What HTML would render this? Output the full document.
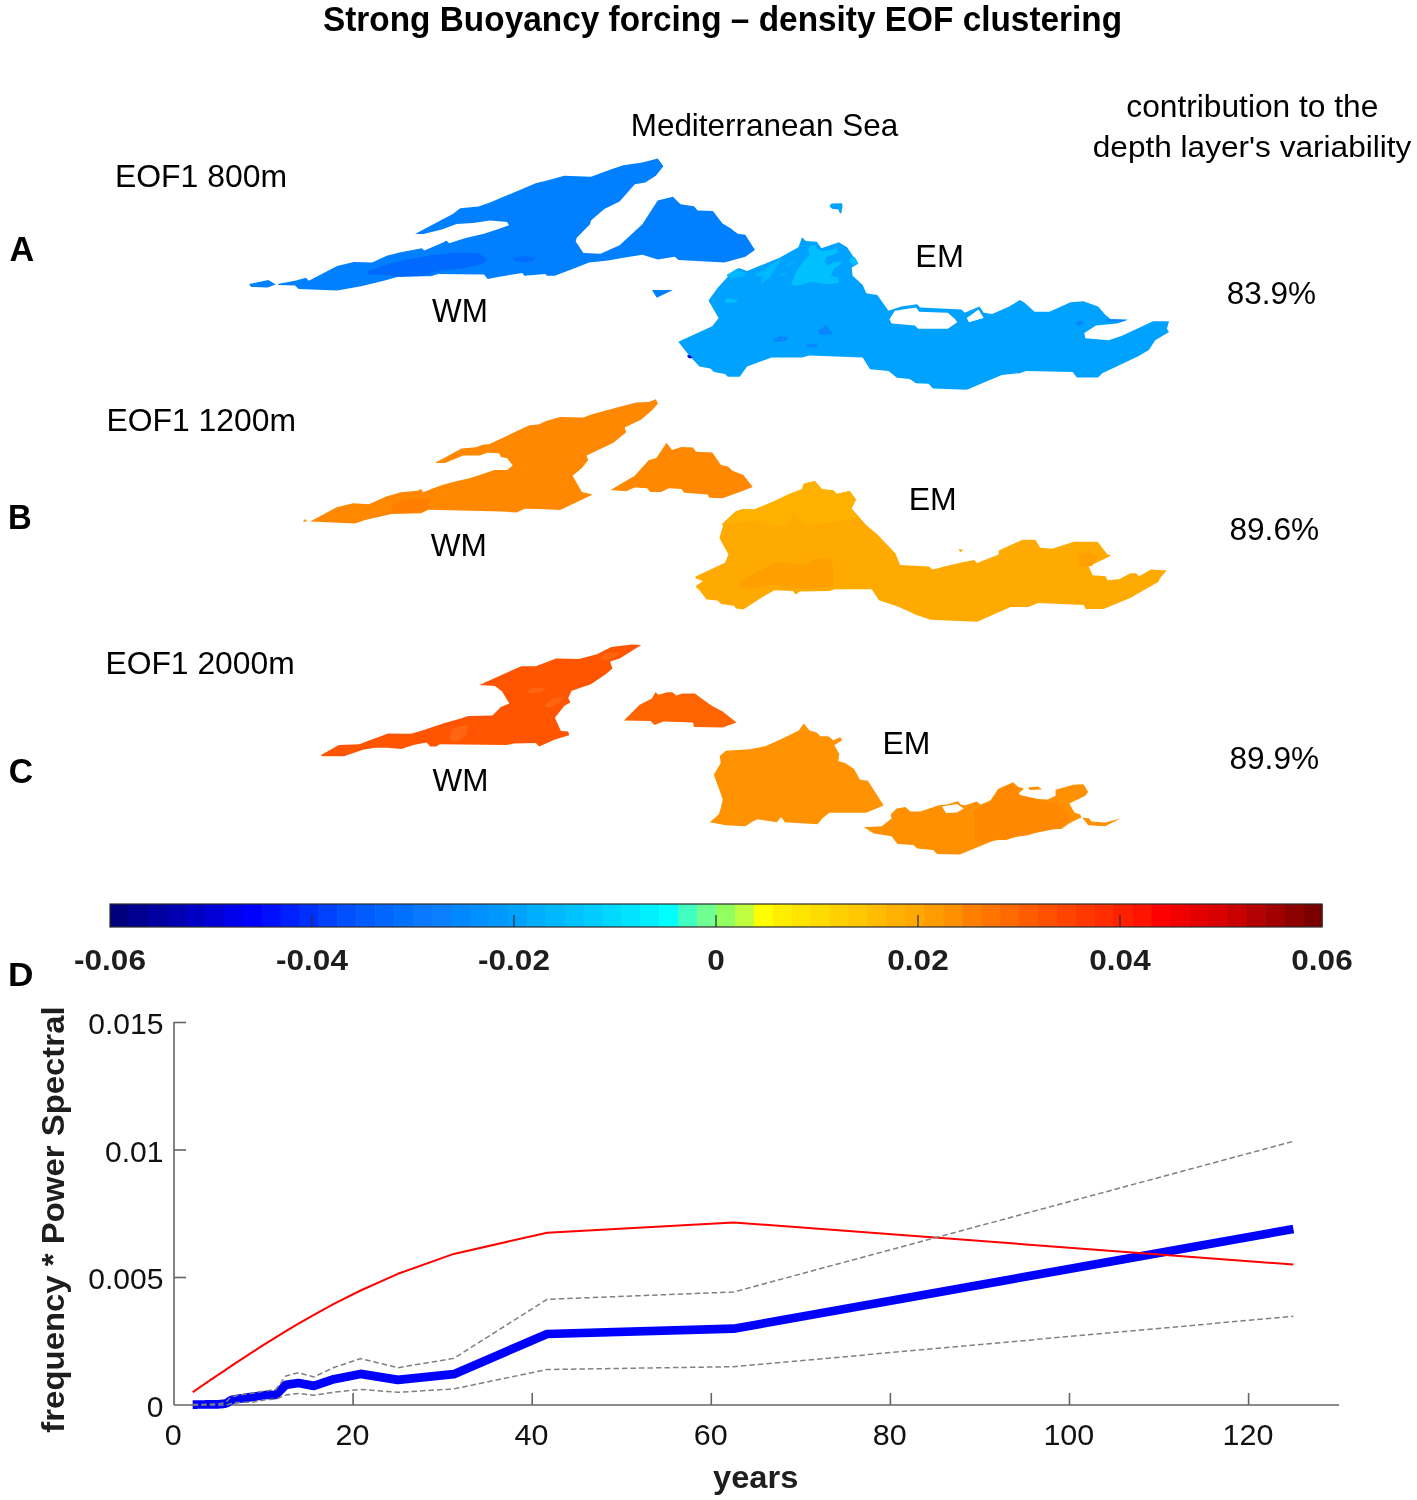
<!DOCTYPE html><html><head><meta charset="utf-8"><title>Strong Buoyancy forcing - density EOF clustering</title>
<style>html,body{margin:0;padding:0;background:#fff;width:1417px;height:1500px;overflow:hidden}svg{display:block}text{font-family:"Liberation Sans",sans-serif}svg{will-change:transform}</style></head><body>
<svg width="1417" height="1500" viewBox="0 0 1417 1500">
<rect width="1417" height="1500" fill="#fff"/>
<g shape-rendering="geometricPrecision">
<polygon fill="#0080ff" points="277.6,283.9 295.0,280.8 306.0,277.7 308.8,280.8 328.0,270.7 337.2,266.1 353.8,262.1 372.1,262.5 386.8,255.7 399.6,252.4 421.7,248.3 424.4,250.6 443.7,242.3 446.4,240.5 449.2,243.2 465.7,238.1 484.0,233.7 500.0,228.5 509.0,225.3 507.1,222.0 490.0,220.5 473.0,223.0 456.5,224.0 441.8,229.4 423.5,234.0 415.2,234.0 425.3,228.5 452.8,213.9 460.2,208.3 478.5,206.5 490.0,202.4 535.7,183.3 547.2,180.5 564.3,175.7 591.0,176.7 612.0,169.1 623.4,165.2 642.4,162.4 657.7,158.6 663.4,166.2 655.8,175.7 645.3,182.4 634.8,184.3 619.6,201.4 604.3,209.1 591.0,220.5 590.0,224.3 576.7,237.7 575.7,241.5 583.4,252.9 600.5,253.8 619.6,245.3 642.4,224.3 657.7,200.5 672.9,196.7 680.5,204.3 693.9,206.2 697.7,210.6 712.9,211.0 722.5,223.4 730.1,228.1 737.7,233.8 745.3,234.8 754.9,250.0 745.3,256.7 724.4,262.4 678.6,260.1 674.8,256.7 657.7,259.6 642.4,254.8 623.4,257.7 608.1,260.5 589.1,262.4 570.0,270.0 554.8,275.8 547.2,275.8 545.3,273.9 524.3,275.8 522.4,272.9 499.5,276.7 487.7,279.0 484.0,274.4 438.2,274.0 430.8,276.2 399.6,276.2 386.8,279.9 361.1,286.3 337.2,290.6 298.7,289.1 295.0,285.4 278.5,285.0"/>
<polygon fill="#0080ff" points="249.2,283.9 268.4,279.9 275.8,284.5 267.5,287.6 251.0,286.9"/>
<polygon fill="#0080ff" points="652.0,290.0 672.9,290.0 656.7,297.7"/>
<polygon fill="#006aff" points="368.0,271.0 385.0,265.0 405.0,260.0 430.0,255.5 456.0,252.5 478.0,253.0 488.0,259.5 482.0,264.0 462.0,268.5 440.0,271.0 423.0,276.0 400.0,277.0 385.0,275.0 368.0,274.5"/>
<polygon fill="#006eff" points="512.9,257.5 522.0,256.0 535.7,257.3 533.0,261.5 520.0,262.4 513.5,260.5"/>
<path fill="#00a2ff" fill-rule="evenodd" d="M678.3,341.8 712.2,326.2 718.6,317.9 708.5,300.5 717.7,287.7 727.8,276.7 726.9,274.8 737.0,269.3 738.8,268.0 747.1,271.1 780.1,257.4 798.4,247.3 802.1,237.2 805.8,240.9 816.8,241.8 821.4,248.2 838.8,242.3 847.1,247.3 858.1,263.8 851.7,267.5 852.6,275.7 862.7,284.9 866.3,293.2 877.3,295.0 888.5,310.7 901.2,306.5 917.0,304.3 920.2,307.5 961.5,309.6 964.7,312.8 979.5,306.5 983.7,312.8 992.2,313.9 1009.2,306.5 1019.7,300.1 1024.0,302.2 1034.6,311.8 1049.4,311.8 1070.6,302.2 1083.3,301.2 1098.1,306.5 1105.5,314.9 1110.8,319.2 1127.7,319.8 1117.1,323.4 1096.0,325.5 1084.3,332.9 1085.4,338.2 1108.7,340.3 1121.4,336.1 1153.1,321.3 1169.0,321.3 1166.9,328.7 1169.0,331.9 1155.2,340.3 1148.9,349.9 1138.3,356.2 1102.3,373.2 1098.1,377.4 1076.9,377.4 1072.7,372.1 1026.1,371.0 1019.7,373.2 1001.7,374.9 966.8,389.7 932.9,388.4 928.7,383.7 916.0,383.3 909.6,379.1 896.9,377.8 888.5,371.0 870.0,369.3 862.7,357.4 809.4,355.6 802.1,357.4 771.8,357.4 747.1,366.6 739.7,376.7 727.8,376.7 725.0,373.9 714.0,372.1 710.4,368.4 699.4,366.6 688.3,354.6Z M889.5,319.2 894.8,310.7 916.0,307.5 919.2,311.8 947.8,312.8 955.2,319.2 957.3,322.3 947.8,328.7 918.1,328.7 914.9,325.5 891.6,323.4Z M966.8,318.1 978.5,309.6 983.7,318.1 968.9,322.3Z"/>
<polygon fill="#00a2ff" points="829.4,205.9 831.5,203.5 842.2,203.2 842.5,207.0 841.2,213.5 839.7,213.0 838.5,209.5 832.0,208.7"/>
<polygon fill="#00c0ff" points="791.3,283.0 794.1,277.3 796.2,271.7 803.3,261.8 809.6,254.8 808.2,248.4 811.0,245.6 816.0,244.9 817.4,249.1 822.3,251.2 832.2,249.8 836.5,247.0 837.9,252.6 825.9,257.6 824.5,261.8 828.0,266.0 833.6,262.5 842.1,261.1 841.4,263.2 833.6,268.9 830.8,275.9 837.9,277.3 838.6,283.0 829.4,284.4 810.3,281.9 797.6,285.8 792.0,285.1"/>
<polygon fill="#00c0ff" points="849.9,258.3 854.8,256.9 858.3,263.2 852.7,265.3 849.9,261.8"/>
<polygon fill="#0000c8" points="687.0,355.5 689.5,355.0 692.6,357.8 690.0,358.6 688.0,357.5"/>
<polygon fill="#00c0ff" points="724.3,301.0 727.0,298.5 730.0,298.5 737.7,300.5 735.0,302.7 726.0,302.7"/>
<polygon fill="#00b8ff" points="726.8,275.4 737.0,268.6 739.8,271.5 746.5,272.6 743.7,276.5 731.3,278.2"/>
<polygon fill="#00b8ff" points="754.4,273.7 762.3,271.5 769.7,265.2 782.1,257.3 776.5,266.9 771.9,273.7 770.8,277.1 760.7,283.9 762.9,276.5 756.1,276.0"/>
<polygon fill="#00b8ff" points="779.3,274.8 786.6,272.6 784.9,274.3 779.9,276.0"/>
<polygon fill="#00b8ff" points="786.1,264.7 795.7,261.3 793.4,263.0 786.6,265.5"/>
<polygon fill="#0a86ff" points="1106.0,319.0 1127.7,319.8 1122.0,321.8 1108.0,321.5"/>
<polygon fill="#0a86ff" points="1076.0,323.0 1080.0,320.5 1084.0,321.5 1082.0,325.0 1077.0,325.5"/>
<polygon fill="#0a86ff" points="773.0,339.0 780.0,336.0 788.0,337.0 786.0,341.0 776.0,342.0"/>
<polygon fill="#0a86ff" points="818.0,331.0 826.0,325.0 830.0,330.0 833.0,334.0 820.0,335.0"/>
<polygon fill="#0a86ff" points="805.0,345.0 818.0,343.0 817.0,347.0 806.0,347.0"/>
<polygon fill="#ff8800" points="310.1,521.6 336.7,507.3 353.2,503.3 368.8,504.2 386.2,496.5 400.9,492.2 417.4,490.8 421.1,488.9 422.9,492.2 441.3,485.3 456.0,481.2 470.6,477.9 494.5,469.9 507.3,469.9 512.8,465.6 507.3,458.3 500.9,457.0 499.1,453.3 487.2,452.8 479.8,455.6 463.3,455.6 445.0,462.9 434.9,462.9 461.5,448.6 476.1,447.3 483.5,444.5 489.0,444.2 529.4,425.3 538.5,424.4 546.2,421.1 560.2,417.0 583.5,417.5 591.2,414.4 606.8,410.2 620.7,406.6 636.3,402.5 648.7,402.0 655.7,399.3 658.0,403.5 651.8,410.5 640.9,419.8 624.6,427.6 626.2,432.3 613.0,443.1 586.6,455.5 588.1,460.2 581.9,468.0 572.6,475.7 581.9,492.0 592.8,494.4 560.2,509.9 540.0,509.1 524.8,508.8 516.5,512.4 501.8,511.5 428.4,509.7 421.1,513.3 391.7,513.9 366.1,519.8 355.0,523.4 311.0,521.6"/>
<polygon fill="#ff8800" points="302.8,521.6 305.0,518.9 307.3,521.6"/>
<polygon fill="#ff7e00" points="392.0,505.0 405.0,500.0 420.0,498.0 430.0,499.0 428.0,509.0 421.0,512.0 392.0,513.0"/>
<polygon fill="#ff8800" points="610.6,490.0 634.7,475.7 648.7,460.2 656.4,457.9 666.5,442.8 672.0,450.1 681.3,447.0 692.9,447.5 696.0,451.7 712.3,452.4 720.9,464.9 727.9,466.4 732.5,470.8 743.4,475.0 752.7,486.9 741.8,491.3 722.4,498.2 709.2,497.8 707.7,494.4 684.4,492.8 681.3,488.9 668.9,488.2 661.1,492.0 650.2,492.0 647.1,488.2 634.7,487.4 626.2,491.3"/>
<polygon fill="#ffaa00" points="695.5,576.4 724.9,562.7 728.5,554.4 719.4,537.9 723.0,526.0 722.1,524.1 735.9,511.3 743.2,508.9 754.2,509.4 772.6,502.1 789.1,493.9 801.9,489.3 803.8,483.8 814.8,481.0 822.1,489.3 833.1,490.2 836.8,493.9 849.6,491.1 856.0,499.4 851.5,508.5 866.1,525.0 877.2,534.2 895.5,553.5 900.1,565.0 928.7,566.4 932.6,569.4 947.4,565.8 959.3,563.1 974.1,559.9 977.1,563.1 998.8,554.6 998.8,550.6 1022.5,539.8 1035.3,539.8 1040.3,547.7 1052.1,548.7 1073.9,541.7 1097.6,541.7 1107.5,554.6 1111.4,555.6 1088.7,566.4 1092.7,575.3 1105.5,576.3 1107.5,580.3 1119.3,579.3 1130.2,573.3 1136.1,573.3 1139.1,576.3 1150.9,569.4 1166.7,570.4 1160.8,577.3 1157.9,582.2 1149.0,587.2 1130.2,598.0 1103.5,608.9 1085.7,608.9 1083.8,605.0 1038.3,603.0 1028.4,606.9 1010.6,606.9 977.1,621.8 930.6,619.8 915.8,614.8 907.9,610.9 898.3,606.7 879.0,600.3 871.7,589.3 835.0,589.3 829.4,591.1 800.1,591.5 795.5,594.4 792.8,591.1 774.4,590.2 763.4,596.6 743.2,609.4 735.9,608.5 734.0,605.8 721.2,604.0 717.5,600.6 706.5,599.4 700.1,591.1 695.5,586.5 702.8,581.0 695.5,578.3"/>
<polygon fill="#ffaa00" points="958.3,549.6 963.2,549.6 960.6,552.6"/>
<polygon fill="#ffb100" points="722.1,524.1 735.9,511.3 743.2,508.9 754.2,509.4 772.6,502.1 789.1,493.9 801.9,489.3 803.8,483.8 814.8,481.0 822.1,489.3 833.1,490.2 836.8,493.9 849.6,491.1 856.0,499.4 851.5,508.5 858.0,516.0 845.6,520.5 832.5,521.8 806.4,525.7 793.3,512.6 790.7,523.1 780.3,527.0 754.2,520.5 722.8,524.4"/>
<polygon fill="#ffa000" points="738.5,581.8 758.1,571.4 777.7,562.3 806.4,564.9 812.9,559.6 829.9,558.3 833.8,568.8 832.5,587.1 806.4,588.4 793.3,588.4 773.8,584.5 754.2,588.4 741.1,588.4"/>
<polygon fill="#ffa000" points="1078.0,555.0 1090.0,552.0 1098.0,556.0 1092.0,566.0 1080.0,567.0"/>
<polygon fill="#ff5500" points="321.0,755.0 339.0,744.9 359.4,744.2 369.0,740.6 388.2,733.4 411.0,733.8 423.0,730.2 444.6,723.1 459.0,719.0 468.5,716.1 492.5,715.4 500.9,707.0 509.3,703.4 502.1,691.4 495.0,685.9 479.3,684.9 521.3,666.2 535.7,666.2 556.1,658.5 578.9,659.0 596.9,654.2 611.3,647.0 631.7,644.6 641.3,645.1 619.7,658.5 610.1,661.4 612.5,668.6 605.3,674.6 590.9,684.2 571.7,690.7 568.1,697.9 570.5,702.2 564.5,705.8 554.9,717.8 560.9,731.0 568.1,731.4 569.3,735.3 554.9,739.4 539.3,746.6 535.7,743.0 514.1,743.4 506.9,744.9 439.8,744.2 436.2,746.6 430.2,746.6 426.6,742.5 413.4,744.9 401.4,749.0 387.0,747.8 375.0,747.8 363.0,749.7 343.8,756.2 322.2,756.2"/>
<polygon fill="#ff6410" points="526.0,692.0 532.0,688.0 546.7,687.4 541.0,692.5 530.0,693.3"/>
<polygon fill="#ff6410" points="543.7,706.0 552.0,699.0 564.5,696.3 560.0,703.0 548.0,708.2"/>
<polygon fill="#ff6410" points="448.9,740.0 452.0,728.0 468.2,724.5 466.0,736.0 455.0,742.2"/>
<polygon fill="#ff6410" points="600.0,658.0 606.0,653.0 620.8,651.9 614.0,658.0 603.0,660.7"/>
<polygon fill="#ff6400" points="623.9,720.5 639.7,704.7 651.6,698.8 655.5,692.3 658.5,694.8 667.4,692.3 672.3,692.3 676.3,695.4 682.2,693.4 695.0,693.4 701.9,698.8 711.8,705.7 722.7,711.6 736.5,722.5 722.7,727.4 694.0,727.0 693.0,722.5 663.4,721.5 654.5,725.0 650.6,721.1"/>
<polygon fill="#ff9200" points="709.8,822.3 718.7,814.4 720.7,808.4 722.7,799.5 720.7,793.6 713.8,774.8 720.7,763.0 719.7,756.1 725.7,750.7 749.4,749.2 765.2,746.2 781.0,739.3 798.8,730.4 803.7,723.5 809.6,730.4 816.5,732.4 820.5,736.3 828.4,736.3 833.3,740.3 840.3,737.3 842.2,740.3 834.3,745.2 839.3,754.1 838.3,761.0 845.2,763.0 854.1,768.9 860.0,779.8 867.9,780.8 883.7,805.5 866.0,812.8 829.4,812.8 822.5,818.3 817.5,824.2 784.9,822.3 781.0,817.0 777.0,822.3 757.3,819.3 751.3,822.3 745.4,826.2 725.7,825.2"/>
<path fill="#ff9000" fill-rule="evenodd" d="M864.0,827.3 881.7,826.3 891.6,818.4 890.6,814.5 896.6,808.5 905.4,807.1 910.4,811.5 920.3,811.5 939.0,805.2 946.9,804.6 957.8,801.2 960.8,804.6 964.7,805.6 976.6,801.6 980.5,804.6 990.4,800.6 998.3,788.8 1013.1,782.3 1018.1,786.8 1024.0,788.8 1018.1,793.7 1020.0,798.6 1047.7,799.6 1055.6,795.7 1055.6,789.8 1073.4,784.8 1083.3,784.2 1088.2,791.7 1085.3,795.7 1069.4,803.6 1074.4,812.5 1080.3,814.5 1081.3,817.4 1069.4,823.3 1061.5,828.9 1045.7,829.3 1028.0,835.2 1016.1,836.8 1006.2,840.1 995.3,840.1 959.8,854.6 937.1,854.0 933.1,850.0 917.3,848.6 913.3,845.1 897.5,844.1 891.6,836.2 873.8,833.6Z M942.0,806.5 957.0,804.0 963.7,808.5 957.0,812.5 946.0,813.0Z"/>
<polygon fill="#ff8800" points="975.0,810.0 990.0,803.0 1000.0,790.0 1013.0,784.0 1020.0,795.0 1047.0,801.0 1062.0,806.0 1070.0,818.0 1060.0,828.0 1030.0,834.0 1000.0,840.0 975.0,842.0"/>
<polygon fill="#ff9000" points="1028.0,787.5 1038.0,786.5 1042.0,789.5 1030.0,790.0"/>
<polygon fill="#ff9000" points="1082.3,817.4 1089.2,818.4 1091.2,821.4 1105.0,822.4 1120.8,818.4 1105.0,826.3 1088.2,825.3"/>
</g>
<text transform="translate(323.00,31.25) scale(0.3338,0.3500)" font-size="100" font-weight="bold" fill="#000">Strong Buoyancy forcing – density EOF clustering</text>
<text transform="translate(630.68,136.29) scale(0.3146,0.3054)" font-size="100" fill="#000">Mediterranean Sea</text>
<text transform="translate(1126.33,116.79) scale(0.3170,0.3122)" font-size="100" fill="#000">contribution to the</text>
<text transform="translate(1092.74,157.26) scale(0.3160,0.3021)" font-size="100" fill="#000">depth layer's variability</text>
<text transform="translate(114.95,186.69) scale(0.3193,0.3070)" font-size="100" fill="#000">EOF1 800m</text>
<text transform="translate(106.45,430.99) scale(0.3188,0.3070)" font-size="100" fill="#000">EOF1 1200m</text>
<text transform="translate(105.45,674.19) scale(0.3183,0.3127)" font-size="100" fill="#000">EOF1 2000m</text>
<text transform="translate(9.57,261.44) scale(0.3424,0.3441)" font-size="100" font-weight="bold" fill="#000">A</text>
<text transform="translate(7.90,529.00) scale(0.3279,0.3464)" font-size="100" font-weight="bold" fill="#000">B</text>
<text transform="translate(8.75,782.86) scale(0.3369,0.3423)" font-size="100" font-weight="bold" fill="#000">C</text>
<text transform="translate(7.93,985.90) scale(0.3525,0.3377)" font-size="100" font-weight="bold" fill="#000">D</text>
<text transform="translate(432.09,322.30) scale(0.3142,0.3290)" font-size="100" fill="#000">WM</text>
<text transform="translate(430.68,555.90) scale(0.3160,0.3203)" font-size="100" fill="#000">WM</text>
<text transform="translate(432.59,790.90) scale(0.3148,0.3174)" font-size="100" fill="#000">WM</text>
<text transform="translate(915.31,267.30) scale(0.3239,0.3217)" font-size="100" fill="#000">EM</text>
<text transform="translate(908.64,509.70) scale(0.3201,0.3159)" font-size="100" fill="#000">EM</text>
<text transform="translate(882.54,754.40) scale(0.3194,0.3188)" font-size="100" fill="#000">EM</text>
<text transform="translate(1226.74,303.98) scale(0.3152,0.3225)" font-size="100" fill="#000">83.9%</text>
<text transform="translate(1229.43,540.28) scale(0.3163,0.3225)" font-size="100" fill="#000">89.6%</text>
<text transform="translate(1229.43,768.98) scale(0.3163,0.3225)" font-size="100" fill="#000">89.9%</text>
<rect x="110.00" y="904" width="19.54" height="23" fill="#00007f"/>
<rect x="128.94" y="904" width="19.54" height="23" fill="#000090"/>
<rect x="147.88" y="904" width="19.54" height="23" fill="#00009f"/>
<rect x="166.81" y="904" width="19.54" height="23" fill="#0000b0"/>
<rect x="185.75" y="904" width="19.54" height="23" fill="#0000c4"/>
<rect x="204.69" y="904" width="19.54" height="23" fill="#0000d6"/>
<rect x="223.62" y="904" width="19.54" height="23" fill="#0000ea"/>
<rect x="242.56" y="904" width="19.54" height="23" fill="#0000ff"/>
<rect x="261.50" y="904" width="19.54" height="23" fill="#0010ff"/>
<rect x="280.44" y="904" width="19.54" height="23" fill="#0020ff"/>
<rect x="299.38" y="904" width="19.54" height="23" fill="#0030ff"/>
<rect x="318.31" y="904" width="19.54" height="23" fill="#0040ff"/>
<rect x="337.25" y="904" width="19.54" height="23" fill="#0050ff"/>
<rect x="356.19" y="904" width="19.54" height="23" fill="#005cff"/>
<rect x="375.12" y="904" width="19.54" height="23" fill="#0066ff"/>
<rect x="394.06" y="904" width="19.54" height="23" fill="#0070ff"/>
<rect x="413.00" y="904" width="19.54" height="23" fill="#0a78ff"/>
<rect x="431.94" y="904" width="19.54" height="23" fill="#0a80ff"/>
<rect x="450.88" y="904" width="19.54" height="23" fill="#0088ff"/>
<rect x="469.81" y="904" width="19.54" height="23" fill="#0090ff"/>
<rect x="488.75" y="904" width="19.54" height="23" fill="#0098ff"/>
<rect x="507.69" y="904" width="19.54" height="23" fill="#00a2ff"/>
<rect x="526.62" y="904" width="19.54" height="23" fill="#00aeff"/>
<rect x="545.56" y="904" width="19.54" height="23" fill="#00b8ff"/>
<rect x="564.50" y="904" width="19.54" height="23" fill="#00c2ff"/>
<rect x="583.44" y="904" width="19.54" height="23" fill="#00ccff"/>
<rect x="602.38" y="904" width="19.54" height="23" fill="#00d8ff"/>
<rect x="621.31" y="904" width="19.54" height="23" fill="#00e4ff"/>
<rect x="640.25" y="904" width="19.54" height="23" fill="#00f0ff"/>
<rect x="659.19" y="904" width="19.54" height="23" fill="#00ffff"/>
<rect x="678.12" y="904" width="19.54" height="23" fill="#40ffc0"/>
<rect x="697.06" y="904" width="19.54" height="23" fill="#70ff90"/>
<rect x="716.00" y="904" width="19.54" height="23" fill="#90ff60"/>
<rect x="734.94" y="904" width="19.54" height="23" fill="#c0ff40"/>
<rect x="753.88" y="904" width="19.54" height="23" fill="#ffff00"/>
<rect x="772.81" y="904" width="19.54" height="23" fill="#ffee00"/>
<rect x="791.75" y="904" width="19.54" height="23" fill="#ffe400"/>
<rect x="810.69" y="904" width="19.54" height="23" fill="#ffdc00"/>
<rect x="829.62" y="904" width="19.54" height="23" fill="#ffd000"/>
<rect x="848.56" y="904" width="19.54" height="23" fill="#ffc800"/>
<rect x="867.50" y="904" width="19.54" height="23" fill="#ffbc00"/>
<rect x="886.44" y="904" width="19.54" height="23" fill="#ffb000"/>
<rect x="905.38" y="904" width="19.54" height="23" fill="#ffa800"/>
<rect x="924.31" y="904" width="19.54" height="23" fill="#ff9c00"/>
<rect x="943.25" y="904" width="19.54" height="23" fill="#ff9000"/>
<rect x="962.19" y="904" width="19.54" height="23" fill="#ff8000"/>
<rect x="981.12" y="904" width="19.54" height="23" fill="#ff7400"/>
<rect x="1000.06" y="904" width="19.54" height="23" fill="#ff6a00"/>
<rect x="1019.00" y="904" width="19.54" height="23" fill="#ff5c00"/>
<rect x="1037.94" y="904" width="19.54" height="23" fill="#ff5000"/>
<rect x="1056.88" y="904" width="19.54" height="23" fill="#ff4400"/>
<rect x="1075.81" y="904" width="19.54" height="23" fill="#ff3800"/>
<rect x="1094.75" y="904" width="19.54" height="23" fill="#ff2c00"/>
<rect x="1113.69" y="904" width="19.54" height="23" fill="#ff2000"/>
<rect x="1132.62" y="904" width="19.54" height="23" fill="#ff1400"/>
<rect x="1151.56" y="904" width="19.54" height="23" fill="#ff0000"/>
<rect x="1170.50" y="904" width="19.54" height="23" fill="#f00000"/>
<rect x="1189.44" y="904" width="19.54" height="23" fill="#e40000"/>
<rect x="1208.38" y="904" width="19.54" height="23" fill="#d80000"/>
<rect x="1227.31" y="904" width="19.54" height="23" fill="#c80000"/>
<rect x="1246.25" y="904" width="19.54" height="23" fill="#b40000"/>
<rect x="1265.19" y="904" width="19.54" height="23" fill="#a00000"/>
<rect x="1284.12" y="904" width="19.54" height="23" fill="#8c0000"/>
<rect x="1303.06" y="904" width="19.54" height="23" fill="#7a0000"/>
<rect x="110" y="904" width="1212" height="23" fill="none" stroke="#2a2a2a" stroke-width="1.2"/>
<line x1="312.0" y1="927" x2="312.0" y2="915" stroke="#2a2a2a" stroke-width="1.2"/>
<line x1="514.0" y1="927" x2="514.0" y2="915" stroke="#2a2a2a" stroke-width="1.2"/>
<line x1="716.0" y1="927" x2="716.0" y2="915" stroke="#2a2a2a" stroke-width="1.2"/>
<line x1="918.0" y1="927" x2="918.0" y2="915" stroke="#2a2a2a" stroke-width="1.2"/>
<line x1="1120.0" y1="927" x2="1120.0" y2="915" stroke="#2a2a2a" stroke-width="1.2"/>
<text transform="translate(110.00,970.25) scale(0.3154,0.2993)" font-size="100" font-weight="bold" text-anchor="middle" fill="#1e1e1e">-0.06</text>
<text transform="translate(312.00,970.25) scale(0.3154,0.2993)" font-size="100" font-weight="bold" text-anchor="middle" fill="#1e1e1e">-0.04</text>
<text transform="translate(514.00,970.25) scale(0.3154,0.2993)" font-size="100" font-weight="bold" text-anchor="middle" fill="#1e1e1e">-0.02</text>
<text transform="translate(716.00,970.25) scale(0.3154,0.2993)" font-size="100" font-weight="bold" text-anchor="middle" fill="#1e1e1e">0</text>
<text transform="translate(918.00,970.25) scale(0.3154,0.2993)" font-size="100" font-weight="bold" text-anchor="middle" fill="#1e1e1e">0.02</text>
<text transform="translate(1120.00,970.25) scale(0.3154,0.2993)" font-size="100" font-weight="bold" text-anchor="middle" fill="#1e1e1e">0.04</text>
<text transform="translate(1322.00,970.25) scale(0.3154,0.2993)" font-size="100" font-weight="bold" text-anchor="middle" fill="#1e1e1e">0.06</text>
<g stroke="#646464" stroke-width="1.6" fill="none">
<line x1="174" y1="1022" x2="174" y2="1405"/>
<line x1="174" y1="1405" x2="1339" y2="1405"/>
<line x1="174" y1="1277.5" x2="186" y2="1277.5"/>
<line x1="174" y1="1150.0" x2="186" y2="1150.0"/>
<line x1="174" y1="1022.5" x2="186" y2="1022.5"/>
<line x1="353.1" y1="1405" x2="353.1" y2="1393"/>
<line x1="532.2" y1="1405" x2="532.2" y2="1393"/>
<line x1="711.3" y1="1405" x2="711.3" y2="1393"/>
<line x1="890.4" y1="1405" x2="890.4" y2="1393"/>
<line x1="1069.5" y1="1405" x2="1069.5" y2="1393"/>
<line x1="1248.6" y1="1405" x2="1248.6" y2="1393"/>
</g>
<text transform="translate(163.46,1416.70) scale(0.3004,0.3014)" font-size="100" text-anchor="end" fill="#111">0</text>
<text transform="translate(163.46,1289.20) scale(0.3004,0.3014)" font-size="100" text-anchor="end" fill="#111">0.005</text>
<text transform="translate(163.46,1161.70) scale(0.3004,0.3014)" font-size="100" text-anchor="end" fill="#111">0.01</text>
<text transform="translate(163.46,1034.20) scale(0.3004,0.3014)" font-size="100" text-anchor="end" fill="#111">0.015</text>
<text transform="translate(173.33,1444.80) scale(0.3049,0.2972)" font-size="100" text-anchor="middle" fill="#111">0</text>
<text transform="translate(352.43,1444.80) scale(0.3049,0.2972)" font-size="100" text-anchor="middle" fill="#111">20</text>
<text transform="translate(531.53,1444.80) scale(0.3049,0.2972)" font-size="100" text-anchor="middle" fill="#111">40</text>
<text transform="translate(710.63,1444.80) scale(0.3049,0.2972)" font-size="100" text-anchor="middle" fill="#111">60</text>
<text transform="translate(889.73,1444.80) scale(0.3049,0.2972)" font-size="100" text-anchor="middle" fill="#111">80</text>
<text transform="translate(1068.83,1444.80) scale(0.3049,0.2972)" font-size="100" text-anchor="middle" fill="#111">100</text>
<text transform="translate(1247.93,1444.80) scale(0.3049,0.2972)" font-size="100" text-anchor="middle" fill="#111">120</text>
<text transform="translate(712.97,1487.86) scale(0.3266,0.3160)" font-size="100" font-weight="bold" fill="#1e1e1e">years</text>
<text transform="translate(63.80,1432.66) rotate(-90) scale(0.3294,0.3191)" font-size="100" font-weight="bold" fill="#1e1e1e">frequency * Power Spectral</text>
<polyline fill="none" stroke="#0000ff" stroke-width="8.7" stroke-linejoin="round" points="192.7,1404.6 193.0,1404.6 193.3,1404.6 193.6,1404.6 194.0,1404.6 194.4,1404.6 194.7,1404.6 195.1,1404.6 195.5,1404.6 195.9,1404.6 196.4,1404.6 196.8,1404.6 197.3,1404.5 197.8,1404.5 198.3,1404.5 198.9,1404.5 199.4,1404.5 200.0,1404.5 200.7,1404.5 201.3,1404.5 202.0,1404.5 202.7,1404.5 203.5,1404.5 204.3,1404.5 205.1,1404.5 206.0,1404.4 206.9,1404.4 207.9,1404.4 209.0,1404.4 210.1,1404.4 211.3,1404.4 212.6,1404.4 214.0,1404.4 215.5,1404.3 217.1,1404.3 218.8,1404.3 220.6,1404.1 222.7,1403.9 224.9,1403.7 227.3,1402.9 230.0,1400.8 232.9,1399.5 236.2,1399.1 239.8,1398.6 244.0,1398.1 248.6,1397.4 254.0,1396.6 260.1,1395.7 267.3,1394.9 275.8,1395.0 285.9,1384.9 298.4,1383.0 313.9,1385.9 333.9,1379.2 360.6,1373.9 397.9,1379.9 453.8,1374.2 547.1,1334.0 733.7,1328.7 1293.4,1229.0"/>
<polyline fill="none" stroke="#ff0000" stroke-width="2" stroke-linejoin="round" points="192.7,1392.2 193.0,1392.0 193.3,1391.7 193.6,1391.5 194.0,1391.3 194.4,1391.0 194.7,1390.7 195.1,1390.5 195.5,1390.2 195.9,1389.9 196.4,1389.6 196.8,1389.3 197.3,1389.0 197.8,1388.6 198.3,1388.3 198.9,1387.9 199.4,1387.5 200.0,1387.1 200.7,1386.7 201.3,1386.2 202.0,1385.8 202.7,1385.3 203.5,1384.8 204.3,1384.2 205.1,1383.7 206.0,1383.1 206.9,1382.4 207.9,1381.7 209.0,1381.0 210.1,1380.2 211.3,1379.4 212.6,1378.6 214.0,1377.6 215.5,1376.6 217.1,1375.5 218.8,1374.4 220.6,1373.1 222.7,1371.8 224.9,1370.3 227.3,1368.6 230.0,1366.9 232.9,1364.9 236.2,1362.7 239.8,1360.3 244.0,1357.6 248.6,1354.6 254.0,1351.1 260.1,1347.2 267.3,1342.6 275.8,1337.4 285.9,1331.1 298.4,1323.7 313.9,1314.8 333.9,1303.9 360.6,1290.5 397.9,1273.8 453.8,1253.9 547.1,1232.7 733.7,1222.4 1293.4,1264.5"/>
<polyline fill="none" stroke="#808080" stroke-width="1.5" stroke-dasharray="5.5,3" points="192.7,1404.6 193.0,1404.6 193.3,1404.6 193.6,1404.6 194.0,1404.6 194.4,1404.6 194.7,1404.6 195.1,1404.5 195.5,1404.5 195.9,1404.5 196.4,1404.5 196.8,1404.5 197.3,1404.5 197.8,1404.5 198.3,1404.5 198.9,1404.5 199.4,1404.4 200.0,1404.4 200.7,1404.4 201.3,1404.4 202.0,1404.4 202.7,1404.4 203.5,1404.4 204.3,1404.3 205.1,1404.3 206.0,1404.3 206.9,1404.3 207.9,1404.2 209.0,1404.2 210.1,1404.2 211.3,1404.2 212.6,1404.1 214.0,1404.1 215.5,1404.1 217.1,1404.0 218.8,1404.0 220.6,1403.5 222.7,1403.0 224.9,1402.4 227.3,1401.0 230.0,1397.6 232.9,1396.5 236.2,1395.8 239.8,1395.0 244.0,1394.2 248.6,1393.7 254.0,1393.0 260.1,1391.7 267.3,1390.7 275.8,1389.5 285.9,1376.0 298.4,1372.7 313.9,1377.0 333.9,1367.5 360.6,1358.6 397.9,1367.7 453.8,1358.4 547.1,1299.3 733.7,1292.0 1293.4,1141.3"/>
<polyline fill="none" stroke="#808080" stroke-width="1.5" stroke-dasharray="5.5,3" points="192.7,1405.0 193.0,1405.0 193.3,1405.0 193.6,1405.0 194.0,1405.0 194.4,1405.0 194.7,1405.0 195.1,1405.0 195.5,1405.0 195.9,1405.0 196.4,1405.0 196.8,1405.0 197.3,1405.0 197.8,1405.0 198.3,1405.0 198.9,1405.0 199.4,1405.0 200.0,1405.0 200.7,1405.0 201.3,1405.0 202.0,1405.0 202.7,1405.0 203.5,1405.0 204.3,1405.0 205.1,1405.0 206.0,1405.0 206.9,1405.0 207.9,1405.0 209.0,1405.0 210.1,1405.0 211.3,1405.0 212.6,1405.0 214.0,1405.0 215.5,1405.0 217.1,1405.0 218.8,1405.0 220.6,1405.0 222.7,1405.0 224.9,1405.0 227.3,1404.8 230.0,1403.9 232.9,1403.0 236.2,1402.5 239.8,1402.4 244.0,1402.3 248.6,1402.2 254.0,1402.0 260.1,1400.7 267.3,1399.6 275.8,1399.3 285.9,1395.0 298.4,1393.4 313.9,1395.3 333.9,1392.2 360.6,1389.4 397.9,1392.3 453.8,1388.9 547.1,1369.5 733.7,1366.7 1293.4,1316.3"/>
</svg></body></html>
